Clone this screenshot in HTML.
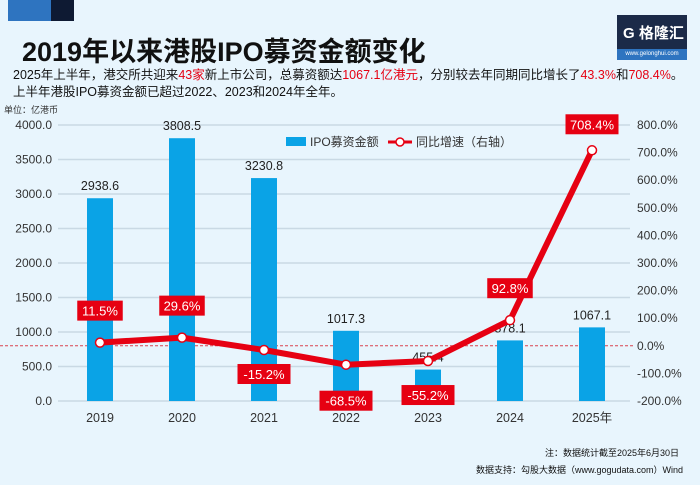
<!DOCTYPE html>
<html><head><meta charset="utf-8"><style>
body{margin:0;width:700px;height:485px;background:#e8f5fd;font-family:"Liberation Sans","Noto Sans CJK SC",sans-serif;overflow:hidden;position:relative}
.t{position:absolute;white-space:nowrap}
.r{color:#e60012}
</style></head><body>
<div style="position:absolute;left:8px;top:0;width:43px;height:21px;background:#2e74c0"></div>
<div style="position:absolute;left:51px;top:0;width:23px;height:21px;background:#0e1a33"></div>
<div class="t" style="left:22px;top:30px;font-size:27px;font-weight:bold;color:#111">2019年以来港股IPO募资金额变化</div>
<div style="position:absolute;left:617px;top:15px;width:70px;height:45px;background:#1b2a48;color:#fff">
<div class="t" style="left:6px;top:7px;font-size:15px;font-weight:bold">G 格隆汇</div>
<div class="t" style="left:0;top:34px;width:70px;height:11px;background:#2e74c0;font-size:6px;text-align:center;line-height:11px">www.gelonghui.com</div></div>
<div class="t" style="left:13px;top:64px;font-size:12.5px;color:#111">2025年上半年，港交所共迎来<span class="r">43家</span>新上市公司，总募资额达<span class="r">1067.1亿港元</span>，分别较去年同期同比增长了<span class="r">43.3%</span>和<span class="r">708.4%</span>。</div>
<div class="t" style="left:13px;top:81px;font-size:12.5px;color:#111">上半年港股IPO募资金额已超过2022、2023和2024年全年。</div>
<div class="t" style="left:4px;top:103px;font-size:9px;color:#333">单位：亿港币</div>
<div class="t" style="left:545px;top:446px;font-size:9px;color:#111">注：数据统计截至2025年6月30日</div>
<div class="t" style="left:476px;top:463px;font-size:9px;color:#111">数据支持：勾股大数据（www.gogudata.com）Wind</div>
<svg id="c" width="700" height="485" style="position:absolute;left:0;top:0"></svg>
<script>
const categories=["2019","2020","2021","2022","2023","2024","2025年"];
const amounts=[2938.6,3808.5,3230.8,1017.3,455.4,878.1,1067.1];
const amountLabels=["2938.6","3808.5","3230.8","1017.3","455.4","878.1","1067.1"];
const growth=[11.5,29.6,-15.2,-68.5,-55.2,92.8,708.4];
const growthLabels=["11.5%","29.6%","-15.2%","-68.5%","-55.2%","92.8%","708.4%"];
const leftTicks=[0,500,1000,1500,2000,2500,3000,3500,4000];
const rightTicks=[-200,-100,0,100,200,300,400,500,600,700,800];
const NS="http://www.w3.org/2000/svg",svg=document.getElementById('c');
const y0=401,y1=125;
const yL=v=>y0-(v/4000)*(y0-y1);
const yR=v=>y0-((v+200)/1000)*(y0-y1);
const xC=i=>100+i*82;
function mk(tag,a,txt){const e=document.createElementNS(NS,tag);for(const k in a)e.setAttribute(k,a[k]);if(txt!==undefined)e.textContent=txt;svg.appendChild(e);return e;}
leftTicks.forEach(v=>{
const g=mk('line',{x1:58,x2:630,y1:yL(v),y2:yL(v),stroke:'#c9d9e4','stroke-width':1.5});


const t=mk('text',{x:52,y:yL(v)+4,'text-anchor':'end','font-size':12,fill:'#333','font-family':'Liberation Sans'},v.toFixed(1));

});
rightTicks.forEach(v=>{
const t=mk('text',{x:637,y:yR(v)+4,'font-size':12,fill:'#333','font-family':'Liberation Sans'},v.toFixed(1)+'%');

});
const z=mk('line',{x1:0,x2:635,y1:yR(0),y2:yR(0),stroke:'#d9434f','stroke-width':1,'stroke-dasharray':'3,2'});


categories.forEach((c,i)=>{
const b=mk('rect',{x:xC(i)-13,y:yL(amounts[i]),width:26,height:y0-yL(amounts[i]),fill:'#0aa3e6'});


const t=mk('text',{x:xC(i),y:yL(amounts[i])-8,'text-anchor':'middle','font-size':12.5,fill:'#222','font-family':'Liberation Sans'},amountLabels[i]);


const x=mk('text',{x:xC(i),y:422,'text-anchor':'middle','font-size':12.5,fill:'#333','font-family':'Liberation Sans, Noto Sans CJK SC'},c);

});
const ln=mk('polyline',{points:growth.map((v,i)=>xC(i)+','+yR(v)).join(' '),fill:'none',stroke:'#e60012','stroke-width':6,'stroke-linejoin':'round'});


const off=[-32,-32,24,36,34,-32,-26];
growth.forEach((v,i)=>{
const p=mk('circle',{cx:xC(i),cy:yR(v),r:4.5,fill:'#fff',stroke:'#e60012','stroke-width':1.5});


const w=growthLabels[i].length*7.5+8,cy=yR(v)+off[i];
const r=mk('rect',{x:xC(i)-w/2,y:cy-10,width:w,height:20,fill:'#e60012'});


const t=mk('text',{x:xC(i),y:cy+5,'text-anchor':'middle','font-size':13,fill:'#fff','font-family':'Liberation Sans'},growthLabels[i]);

});
const lg1=mk('rect',{x:286,y:137,width:20,height:9,fill:'#0aa3e6'});


const lt1=mk('text',{x:310,y:146,'font-size':12,fill:'#333','font-family':'Liberation Sans, Noto Sans CJK SC'},'IPO募资金额');


const lg2=mk('line',{x1:388,x2:412,y1:142,y2:142,stroke:'#e60012','stroke-width':3});


const lc=mk('circle',{cx:400,cy:142,r:4,fill:'#fff',stroke:'#e60012','stroke-width':1.5});


const lt2=mk('text',{x:416,y:146,'font-size':12,fill:'#333','font-family':'Liberation Sans, Noto Sans CJK SC'},'同比增速（右轴）');


</script>
</body></html>
